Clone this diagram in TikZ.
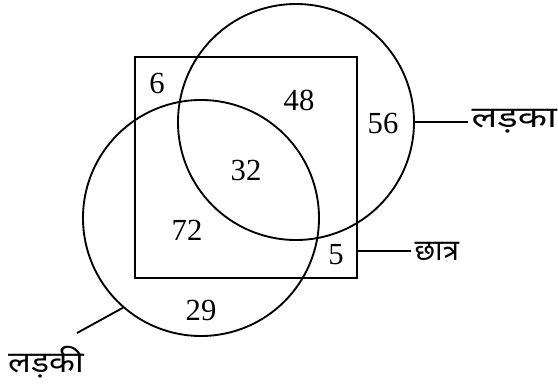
\documentclass[tikz,border=0pt]{standalone}
\usepackage{fontspec}
\setmainfont{Liberation Serif}
\newfontfamily\deva[Script=Devanagari]{Noto Sans}
\newfontfamily\devaw[Script=Devanagari, FakeStretch=1.3]{Noto Sans}
\newfontfamily\devam[Script=Devanagari, FakeStretch=1.15]{Noto Sans}
\begin{document}
\begin{tikzpicture}[x=0.75pt,y=-0.75pt, line width=1.4pt,
  num/.style={font=\fontsize{23}{23}\selectfont, inner sep=0pt},
  lab/.style={inner sep=2pt},
  ring/.style={draw, circle, minimum size=177pt, inner sep=0pt}]
\useasboundingbox (0,0) rectangle (558,385);
\node[draw, rectangle, minimum width=166.5pt, minimum height=165.75pt, inner sep=0pt] (sq) at (246,167.5) {};
\node[ring] (boy) at (296,122) {};
\node[ring] (girl) at (201,218) {};
\node[num] (n6) at (157,83) {6};
\node[num] (n48) at (299,100) {48};
\node[num] (n56) at (383,123) {56};
\node[num] (n32) at (246,170) {32};
\node[num] (n72) at (187,230) {72};
\node[num] (n5) at (336,255) {5};
\node[num] (n29) at (201,310) {29};
\node[lab, anchor=west, font=\devaw\fontsize{22}{22}\selectfont] (ladka) at (468,121) {लड़का};
\node[lab, anchor=west, font=\deva\fontsize{22}{22}\selectfont] (chhatra) at (411,251) {छात्र};
\node[lab, font=\devam\fontsize{22}{22}\selectfont] (ladki) at (46,362) {लड़की};
\coordinate (lk) at (77,333);
\draw (boy.east) -- (ladka.west |- boy.east);
\draw (sq.east |- chhatra.west) -- (chhatra.west);
\draw (girl.229) -- (lk);
\end{tikzpicture}
\end{document}
